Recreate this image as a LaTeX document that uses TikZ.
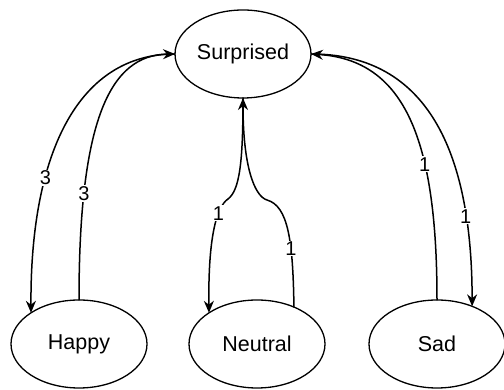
\documentclass[tikz,border=0pt]{standalone}
\usepackage{fontspec}
\setmainfont{Liberation Sans}
\usetikzlibrary{shapes.geometric,arrows.meta}
\begin{document}
\begin{tikzpicture}[x=1pt,y=1pt,line join=round,line cap=round,
  emo/.style={ellipse,draw,line width=1.3pt,minimum width=136pt,minimum height=88pt,inner sep=0pt,outer sep=0pt,font=\fontsize{21.5}{25}\selectfont},
  link/.style={line width=1.5pt,-{Stealth[length=12pt,width=10pt]}},
  lbl/.style={fill=white,inner sep=1pt,font=\fontsize{20}{23}\selectfont}]
\useasboundingbox (0,0) rectangle (504,390);
\node[emo] (S) at (243,336) {Surprised};
\node[emo] (H) at (79,46) {Happy};
\node[emo] (N) at (257,46) {Neutral};
\node[emo] (D) at (437,46) {Sad};
% Surprised <-> Happy
\draw[link] (S.west) .. controls (80,336) and (30,240) .. (H.147) node[lbl,pos=0.68]{3};
\draw[link] (H.north) .. controls (79,270) and (110,335) .. (S.west) node[lbl,pos=0.23]{3};
% Surprised <-> Neutral
\draw[link] (S.south) .. controls (243,230) and (240,200) .. (228,191)
  .. controls (216,183) and (208,150) .. (N.147) node[lbl,pos=0.3]{1};
\draw[link] (N.45) .. controls (293,150) and (288,184) .. (267,190) node[lbl,pos=0.35]{1}
  .. controls (254,194) and (243,225) .. (S.south);
% Surprised <-> Sad
\draw[link] (D.north) .. controls (437,250) and (405,330) .. (S.east) node[lbl,pos=0.34]{1};
\draw[link] (S.east) .. controls (420,336) and (472,250) .. (D.47) node[lbl,pos=0.8]{1};
\end{tikzpicture}
\end{document}
